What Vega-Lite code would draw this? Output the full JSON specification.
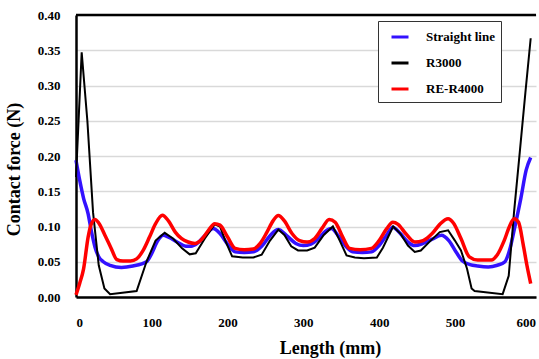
{
  "$schema": "https://vega.github.io/schema/vega-lite/v6.json",
  "width": 460,
  "height": 282,
  "autosize": "none",
  "padding": {"left": 76, "top": 15, "right": 3, "bottom": 62},
  "background": "white",
  "config": {
    "view": {"stroke": null},
    "font": "Liberation Serif, serif"
  },
  "datasets": {
    "lines": [
      {"s": "Straight line", "x": 0, "y": 0.194},
      {"s": "Straight line", "x": 5, "y": 0.165},
      {"s": "Straight line", "x": 10, "y": 0.14},
      {"s": "Straight line", "x": 16, "y": 0.118},
      {"s": "Straight line", "x": 20, "y": 0.095},
      {"s": "Straight line", "x": 25, "y": 0.071},
      {"s": "Straight line", "x": 30, "y": 0.057},
      {"s": "Straight line", "x": 36, "y": 0.05},
      {"s": "Straight line", "x": 45, "y": 0.045},
      {"s": "Straight line", "x": 60, "y": 0.042},
      {"s": "Straight line", "x": 75, "y": 0.044},
      {"s": "Straight line", "x": 93, "y": 0.05},
      {"s": "Straight line", "x": 100, "y": 0.062},
      {"s": "Straight line", "x": 108, "y": 0.08},
      {"s": "Straight line", "x": 115, "y": 0.0875},
      {"s": "Straight line", "x": 122, "y": 0.085},
      {"s": "Straight line", "x": 135, "y": 0.077},
      {"s": "Straight line", "x": 145, "y": 0.072},
      {"s": "Straight line", "x": 152, "y": 0.072},
      {"s": "Straight line", "x": 160, "y": 0.076},
      {"s": "Straight line", "x": 170, "y": 0.087},
      {"s": "Straight line", "x": 181, "y": 0.097},
      {"s": "Straight line", "x": 190, "y": 0.09},
      {"s": "Straight line", "x": 200, "y": 0.075},
      {"s": "Straight line", "x": 210, "y": 0.064},
      {"s": "Straight line", "x": 222, "y": 0.063},
      {"s": "Straight line", "x": 234, "y": 0.064},
      {"s": "Straight line", "x": 245, "y": 0.072},
      {"s": "Straight line", "x": 256, "y": 0.087},
      {"s": "Straight line", "x": 267, "y": 0.0956},
      {"s": "Straight line", "x": 278, "y": 0.087},
      {"s": "Straight line", "x": 290, "y": 0.076},
      {"s": "Straight line", "x": 300, "y": 0.073},
      {"s": "Straight line", "x": 310, "y": 0.075},
      {"s": "Straight line", "x": 320, "y": 0.083},
      {"s": "Straight line", "x": 329, "y": 0.093},
      {"s": "Straight line", "x": 337, "y": 0.097},
      {"s": "Straight line", "x": 346, "y": 0.087},
      {"s": "Straight line", "x": 356, "y": 0.072},
      {"s": "Straight line", "x": 365, "y": 0.064},
      {"s": "Straight line", "x": 378, "y": 0.063},
      {"s": "Straight line", "x": 390, "y": 0.064},
      {"s": "Straight line", "x": 400, "y": 0.073},
      {"s": "Straight line", "x": 410, "y": 0.088},
      {"s": "Straight line", "x": 418, "y": 0.099},
      {"s": "Straight line", "x": 428, "y": 0.09},
      {"s": "Straight line", "x": 438, "y": 0.078},
      {"s": "Straight line", "x": 447, "y": 0.073},
      {"s": "Straight line", "x": 458, "y": 0.076},
      {"s": "Straight line", "x": 470, "y": 0.082},
      {"s": "Straight line", "x": 482, "y": 0.0875},
      {"s": "Straight line", "x": 492, "y": 0.08},
      {"s": "Straight line", "x": 502, "y": 0.063},
      {"s": "Straight line", "x": 510, "y": 0.051},
      {"s": "Straight line", "x": 520, "y": 0.046},
      {"s": "Straight line", "x": 530, "y": 0.044},
      {"s": "Straight line", "x": 544, "y": 0.0426},
      {"s": "Straight line", "x": 556, "y": 0.045},
      {"s": "Straight line", "x": 566, "y": 0.05},
      {"s": "Straight line", "x": 573, "y": 0.07},
      {"s": "Straight line", "x": 579, "y": 0.099},
      {"s": "Straight line", "x": 587, "y": 0.14},
      {"s": "Straight line", "x": 594, "y": 0.18},
      {"s": "Straight line", "x": 600, "y": 0.198},

      {"s": "R3000", "x": 0, "y": 0.17},
      {"s": "R3000", "x": 7.5, "y": 0.347},
      {"s": "R3000", "x": 15, "y": 0.25},
      {"s": "R3000", "x": 22.5, "y": 0.12},
      {"s": "R3000", "x": 30, "y": 0.045},
      {"s": "R3000", "x": 37.5, "y": 0.012},
      {"s": "R3000", "x": 45, "y": 0.004},
      {"s": "R3000", "x": 80, "y": 0.0085},
      {"s": "R3000", "x": 93, "y": 0.05},
      {"s": "R3000", "x": 105, "y": 0.08},
      {"s": "R3000", "x": 117, "y": 0.091},
      {"s": "R3000", "x": 128, "y": 0.083},
      {"s": "R3000", "x": 140, "y": 0.069},
      {"s": "R3000", "x": 150, "y": 0.0605},
      {"s": "R3000", "x": 158, "y": 0.062},
      {"s": "R3000", "x": 170, "y": 0.083},
      {"s": "R3000", "x": 183, "y": 0.103},
      {"s": "R3000", "x": 190, "y": 0.1},
      {"s": "R3000", "x": 197, "y": 0.08},
      {"s": "R3000", "x": 206, "y": 0.0577},
      {"s": "R3000", "x": 220, "y": 0.056},
      {"s": "R3000", "x": 234, "y": 0.056},
      {"s": "R3000", "x": 245, "y": 0.06},
      {"s": "R3000", "x": 256, "y": 0.08},
      {"s": "R3000", "x": 267, "y": 0.0956},
      {"s": "R3000", "x": 275, "y": 0.088},
      {"s": "R3000", "x": 284, "y": 0.072},
      {"s": "R3000", "x": 293, "y": 0.066},
      {"s": "R3000", "x": 305, "y": 0.066},
      {"s": "R3000", "x": 315, "y": 0.07},
      {"s": "R3000", "x": 327, "y": 0.088},
      {"s": "R3000", "x": 339, "y": 0.1},
      {"s": "R3000", "x": 348, "y": 0.08},
      {"s": "R3000", "x": 357, "y": 0.059},
      {"s": "R3000", "x": 368, "y": 0.056},
      {"s": "R3000", "x": 380, "y": 0.055},
      {"s": "R3000", "x": 397, "y": 0.056},
      {"s": "R3000", "x": 405, "y": 0.07},
      {"s": "R3000", "x": 418.5, "y": 0.1},
      {"s": "R3000", "x": 428, "y": 0.09},
      {"s": "R3000", "x": 438, "y": 0.073},
      {"s": "R3000", "x": 447, "y": 0.064},
      {"s": "R3000", "x": 455, "y": 0.066},
      {"s": "R3000", "x": 468, "y": 0.08},
      {"s": "R3000", "x": 480, "y": 0.092},
      {"s": "R3000", "x": 491, "y": 0.0946},
      {"s": "R3000", "x": 500, "y": 0.08},
      {"s": "R3000", "x": 508, "y": 0.066},
      {"s": "R3000", "x": 516, "y": 0.04},
      {"s": "R3000", "x": 522, "y": 0.012},
      {"s": "R3000", "x": 526, "y": 0.0085},
      {"s": "R3000", "x": 563, "y": 0.004},
      {"s": "R3000", "x": 571, "y": 0.03},
      {"s": "R3000", "x": 578, "y": 0.12},
      {"s": "R3000", "x": 586, "y": 0.21},
      {"s": "R3000", "x": 593, "y": 0.29},
      {"s": "R3000", "x": 600, "y": 0.367},

      {"s": "RE-R4000", "x": 0, "y": 0.003},
      {"s": "RE-R4000", "x": 5, "y": 0.02},
      {"s": "RE-R4000", "x": 10, "y": 0.04},
      {"s": "RE-R4000", "x": 16, "y": 0.085},
      {"s": "RE-R4000", "x": 20, "y": 0.103},
      {"s": "RE-R4000", "x": 25, "y": 0.11},
      {"s": "RE-R4000", "x": 30, "y": 0.105},
      {"s": "RE-R4000", "x": 38, "y": 0.088},
      {"s": "RE-R4000", "x": 46, "y": 0.07},
      {"s": "RE-R4000", "x": 54, "y": 0.053},
      {"s": "RE-R4000", "x": 62, "y": 0.051},
      {"s": "RE-R4000", "x": 72, "y": 0.051},
      {"s": "RE-R4000", "x": 80, "y": 0.054},
      {"s": "RE-R4000", "x": 88, "y": 0.065},
      {"s": "RE-R4000", "x": 97, "y": 0.085},
      {"s": "RE-R4000", "x": 105, "y": 0.104},
      {"s": "RE-R4000", "x": 114, "y": 0.116},
      {"s": "RE-R4000", "x": 122, "y": 0.108},
      {"s": "RE-R4000", "x": 131, "y": 0.092},
      {"s": "RE-R4000", "x": 139, "y": 0.083},
      {"s": "RE-R4000", "x": 148, "y": 0.078},
      {"s": "RE-R4000", "x": 157, "y": 0.076},
      {"s": "RE-R4000", "x": 166, "y": 0.082},
      {"s": "RE-R4000", "x": 175, "y": 0.095},
      {"s": "RE-R4000", "x": 183, "y": 0.104},
      {"s": "RE-R4000", "x": 190, "y": 0.102},
      {"s": "RE-R4000", "x": 200, "y": 0.085},
      {"s": "RE-R4000", "x": 210, "y": 0.069},
      {"s": "RE-R4000", "x": 222, "y": 0.067},
      {"s": "RE-R4000", "x": 234, "y": 0.068},
      {"s": "RE-R4000", "x": 243, "y": 0.076},
      {"s": "RE-R4000", "x": 252, "y": 0.092},
      {"s": "RE-R4000", "x": 260, "y": 0.108},
      {"s": "RE-R4000", "x": 267, "y": 0.1155},
      {"s": "RE-R4000", "x": 275, "y": 0.108},
      {"s": "RE-R4000", "x": 285, "y": 0.09},
      {"s": "RE-R4000", "x": 295, "y": 0.08},
      {"s": "RE-R4000", "x": 305, "y": 0.078},
      {"s": "RE-R4000", "x": 315, "y": 0.083},
      {"s": "RE-R4000", "x": 325, "y": 0.098},
      {"s": "RE-R4000", "x": 334, "y": 0.11},
      {"s": "RE-R4000", "x": 342, "y": 0.106},
      {"s": "RE-R4000", "x": 352, "y": 0.085},
      {"s": "RE-R4000", "x": 361, "y": 0.069},
      {"s": "RE-R4000", "x": 375, "y": 0.067},
      {"s": "RE-R4000", "x": 390, "y": 0.069},
      {"s": "RE-R4000", "x": 400, "y": 0.08},
      {"s": "RE-R4000", "x": 410, "y": 0.097},
      {"s": "RE-R4000", "x": 418, "y": 0.106},
      {"s": "RE-R4000", "x": 425, "y": 0.103},
      {"s": "RE-R4000", "x": 435, "y": 0.09},
      {"s": "RE-R4000", "x": 447, "y": 0.078},
      {"s": "RE-R4000", "x": 458, "y": 0.08},
      {"s": "RE-R4000", "x": 470, "y": 0.09},
      {"s": "RE-R4000", "x": 480, "y": 0.103},
      {"s": "RE-R4000", "x": 491, "y": 0.111},
      {"s": "RE-R4000", "x": 498, "y": 0.105},
      {"s": "RE-R4000", "x": 508, "y": 0.083},
      {"s": "RE-R4000", "x": 519, "y": 0.057},
      {"s": "RE-R4000", "x": 530, "y": 0.0525},
      {"s": "RE-R4000", "x": 548, "y": 0.0525},
      {"s": "RE-R4000", "x": 556, "y": 0.06},
      {"s": "RE-R4000", "x": 565, "y": 0.08},
      {"s": "RE-R4000", "x": 572, "y": 0.1},
      {"s": "RE-R4000", "x": 578, "y": 0.111},
      {"s": "RE-R4000", "x": 584, "y": 0.106},
      {"s": "RE-R4000", "x": 590, "y": 0.075},
      {"s": "RE-R4000", "x": 595, "y": 0.045},
      {"s": "RE-R4000", "x": 600, "y": 0.019}
    ],
    "frame": [{"top": 0.4}]
  },
  "encoding": {
    "x": {
      "field": "x", "type": "quantitative",
      "scale": {"domain": [0, 607], "nice": false, "zero": false},
      "axis": {
        "values": [0, 100, 200, 300, 400, 500, 600],
        "title": "Length (mm)",
        "titleFont": "Liberation Serif, serif", "titleFontSize": 18, "titleFontWeight": "bold", "titleColor": "#000",
        "titleX": 254, "titleAnchor": null, "titleAlign": "center", "titlePadding": 10,
        "labelFont": "Liberation Serif, serif", "labelFontSize": 13, "labelFontWeight": "bold", "labelColor": "#000",
        "labelOffset": {"condition": {"test": "datum.value == 600", "value": -5}, "value": 0},
        "labelPadding": 19, "ticks": false, "grid": false,
        "domainColor": "#000", "domainWidth": 2.5
      }
    },
    "y": {
      "field": "y", "type": "quantitative",
      "scale": {"domain": [0, 0.4], "nice": false},
      "axis": {
        "values": [0, 0.05, 0.1, 0.15, 0.2, 0.25, 0.3, 0.35, 0.4],
        "format": ".2f",
        "title": "Contact force (N)",
        "titleFont": "Liberation Serif, serif", "titleFontSize": 18, "titleFontWeight": "bold", "titleColor": "#000",
        "titleY": 154, "titleAnchor": null, "titleAlign": "center", "titlePadding": 14,
        "labelFont": "Liberation Serif, serif", "labelFontSize": 13, "labelFontWeight": "bold", "labelColor": "#000",
        "labelPadding": 16, "ticks": false,
        "grid": true, "gridColor": "#d9d9d9", "gridWidth": 1.5,
        "domainColor": "#000", "domainWidth": 2.5
      }
    }
  },
  "layer": [
    {
      "data": {"name": "frame"},
      "mark": {"type": "rule", "color": "#000", "strokeWidth": 2.5},
      "encoding": {"y": {"field": "top", "type": "quantitative"}, "x": null}
    },
    {
      "data": {"name": "lines"},
      "transform": [{"filter": "datum.s === 'Straight line'"}],
      "mark": {"type": "line", "strokeWidth": 3.5, "interpolate": "monotone"},
      "encoding": {
        "color": {"field": "s", "type": "nominal", "scale": {"domain": ["Straight line", "R3000", "RE-R4000"], "range": ["#3311ff", "#000000", "#ff0000"]},
          "legend": {
            "title": null, "orient": "none", "legendX": 302, "legendY": 6,
            "symbolType": "stroke", "symbolSize": 289, "symbolStrokeWidth": 3,
            "symbolOffset": 6, "labelOffset": 16,
            "labelFont": "Liberation Serif, serif", "labelFontSize": 13, "labelFontWeight": "bold", "labelColor": "#000",
            "rowPadding": 9, "padding": 6,
            "strokeColor": "#333", "fillColor": "#fff"
          }
        }
      }
    },
    {
      "data": {"name": "lines"},
      "transform": [{"filter": "datum.s === 'R3000'"}],
      "mark": {"type": "line", "strokeWidth": 2},
      "encoding": {"color": {"field": "s", "type": "nominal"}}
    },
    {
      "data": {"name": "lines"},
      "transform": [{"filter": "datum.s === 'RE-R4000'"}],
      "mark": {"type": "line", "strokeWidth": 3.5, "interpolate": "monotone"},
      "encoding": {"color": {"field": "s", "type": "nominal"}}
    }
  ]
}
